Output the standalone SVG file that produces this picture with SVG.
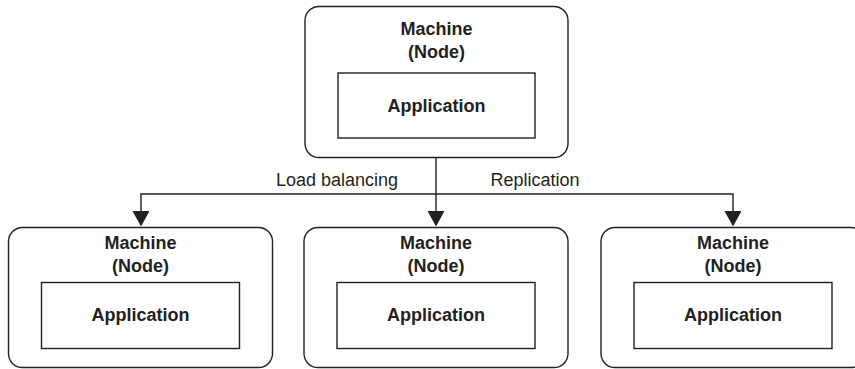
<svg xmlns="http://www.w3.org/2000/svg" width="855" height="369" viewBox="0 0 855 369">
<defs>
<marker id="arr" markerWidth="17" markerHeight="16" refX="8.5" refY="15.5" orient="auto-start-reverse" markerUnits="userSpaceOnUse" viewBox="0 0 17 16">
<path d="M0,0 L17,0 L8.5,15.5 Z" fill="#231f20"/>
</marker>
</defs>
<style>
.box{fill:#fff;stroke:#231f20;stroke-width:1.4}
.inner{fill:#fff;stroke:#231f20;stroke-width:1.4}
.t{font-family:"Liberation Sans",Arial,sans-serif;font-size:18px;font-weight:bold;fill:#231f20;text-anchor:middle}
.lbl{font-family:"Liberation Sans",Arial,sans-serif;font-size:18px;fill:#231f20;text-anchor:middle}
.ln{fill:none;stroke:#231f20;stroke-width:1.4}
</style>
<rect width="855" height="369" fill="#fff"/>
<g id="connectors">
<path class="ln" d="M436,157.5 L436,211"/>
<path class="ln" d="M141,211 L141,194 L733,194 L733,211"/>
<path d="M427.5,211 L444.5,211 L436,226.5 Z" fill="#231f20"/>
<path d="M132.5,211 L149.5,211 L141,226.5 Z" fill="#231f20"/>
<path d="M724.5,211 L741.5,211 L733,226.5 Z" fill="#231f20"/>
<text class="lbl" x="337" y="186">Load balancing</text>
<text class="lbl" x="535" y="186">Replication</text>
</g>
<g id="node-top">
<rect class="box" x="305" y="6.5" width="263" height="151" rx="14"/>
<text class="t" x="436.5" y="35">Machine</text>
<text class="t" x="436.5" y="58">(Node)</text>
<rect class="inner" x="338" y="73" width="197" height="65"/>
<text class="t" x="436.5" y="111.5">Application</text>
</g>
<g id="node-left">
<rect class="box" x="8.5" y="227.5" width="264" height="140" rx="14"/>
<text class="t" x="140.5" y="249">Machine</text>
<text class="t" x="140.5" y="272">(Node)</text>
<rect class="inner" x="41.5" y="282.5" width="198" height="66"/>
<text class="t" x="140.5" y="321">Application</text>
</g>
<g id="node-middle">
<rect class="box" x="304" y="227.5" width="264" height="140" rx="14"/>
<text class="t" x="436" y="249">Machine</text>
<text class="t" x="436" y="272">(Node)</text>
<rect class="inner" x="337" y="282.5" width="198" height="66"/>
<text class="t" x="436" y="321">Application</text>
</g>
<g id="node-right">
<rect class="box" x="601" y="227.5" width="264" height="140" rx="14"/>
<text class="t" x="733" y="249">Machine</text>
<text class="t" x="733" y="272">(Node)</text>
<rect class="inner" x="634" y="282.5" width="198" height="66"/>
<text class="t" x="733" y="321">Application</text>
</g>
</svg>
